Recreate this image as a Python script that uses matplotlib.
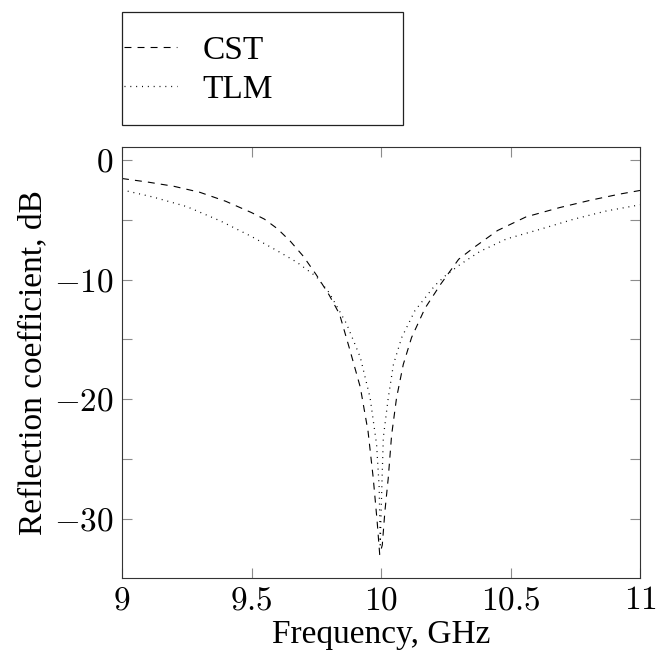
import matplotlib
matplotlib.use("Agg")
import matplotlib.pyplot as plt
from matplotlib.patches import Rectangle

# ---- data ----
freq_cst = [9.0, 9.1, 9.2, 9.3, 9.4, 9.5, 9.55, 9.6, 9.65, 9.7, 9.75, 9.8, 9.84,
            9.88, 9.92, 9.95, 9.97, 9.985, 9.995, 10.005, 10.015, 10.028, 10.041,
            10.06, 10.086, 10.118, 10.17, 10.23, 10.3, 10.36, 10.45, 10.56, 10.69,
            10.81, 10.92, 11.0]
refl_cst = [-1.55, -1.85, -2.2, -2.7, -3.45, -4.4, -4.95, -5.75, -6.8, -8.05, -9.6,
            -11.3, -12.9, -15.9, -19.0, -22.7, -26.6, -30.2, -33.0, -32.2, -29.4,
            -26.6, -23.0, -19.9, -17.1, -14.85, -12.4, -10.4, -8.3, -7.3, -5.9,
            -4.76, -3.98, -3.36, -2.86, -2.55]

freq_tlm = [9.0, 9.12, 9.25, 9.38, 9.5, 9.6, 9.675, 9.75, 9.8, 9.867, 9.92, 9.958,
            9.983, 9.993, 9.997, 10.003, 10.009, 10.028, 10.048, 10.08, 10.131,
            10.208, 10.25, 10.305, 10.382, 10.485, 10.614, 10.743, 10.871, 11.0]
refl_tlm = [-2.5, -3.1, -3.9, -5.1, -6.4, -7.6, -8.55, -9.75, -11.1, -13.7, -16.5,
            -19.9, -23.8, -27.4, -32.2, -27.5, -23.2, -19.9, -17.1, -14.85, -12.6,
            -10.5, -9.65, -8.75, -7.65, -6.6, -5.8, -4.96, -4.26, -3.75]

series_labels = ["CST", "TLM"]
xticks = [9, 9.5, 10, 10.5, 11]
xtick_labels = ["9", "9.5", "10", "10.5", "11"]
yticks = [0, -10, -20, -30]
ytick_labels = ["0", "-10", "-20", "-30"]
yminor = [-5, -15, -25]
x_label = "Frequency, GHz"
y_label = "Reflection coefficient, dB"

# ---- style ----
plt.rcParams["mathtext.fontset"] = "cm"
plt.rcParams["font.family"] = ["Liberation Serif", "DejaVu Serif"]
plt.rcParams["lines.scale_dashes"] = False

W, H = 665, 658
fig = plt.figure(figsize=(W / 100, H / 100), dpi=100)
ax = fig.add_axes([122 / W, 1 - 577.5 / H, (640 - 122) / W, (577.5 - 147.3) / H])

ax.plot(freq_cst, refl_cst, color="black", lw=0.8, dashes=(5.0, 4.4), label=series_labels[0])
ax.plot(freq_tlm, refl_tlm, color="black", lw=0.9, dashes=(0.7, 3.5), label=series_labels[1])

ax.set_xlim(9, 11)
ax.set_ylim(-34.92, 1.06)

ax.set_xticks(xticks)
ax.set_xticklabels(["$" + t + "$" for t in xtick_labels])
ax.set_yticks(yticks)
ax.set_yticklabels(["$" + t + "$" for t in ytick_labels])
ax.set_yticks(yminor, minor=True)

ax.tick_params(which="both", direction="in", top=True, right=True,
               length=7.2, width=0.8, color="#8c8c8c", labelsize=24, pad=6)

for sp in ax.spines.values():
    sp.set_linewidth(0.8)
    sp.set_color("#333333")

ax.set_xlabel(x_label, fontsize=24, labelpad=2)
ax.set_ylabel(y_label, fontsize=24, labelpad=4)

# legend above the axes, with its own frame
leg = fig.legend(loc="center left", bbox_to_anchor=(124 / W, 1 - 70 / H),
                 frameon=False, fontsize=24, handlelength=1.6, handletextpad=0.75,
                 labelspacing=0.25, borderpad=0, borderaxespad=0)
fig.patches.append(Rectangle((122 / W, 1 - 125 / H), (403 - 122) / W, (125 - 12) / H,
                             transform=fig.transFigure, fill=False, lw=0.9,
                             edgecolor="#222222"))

fig.savefig("out.png", dpi=100)
